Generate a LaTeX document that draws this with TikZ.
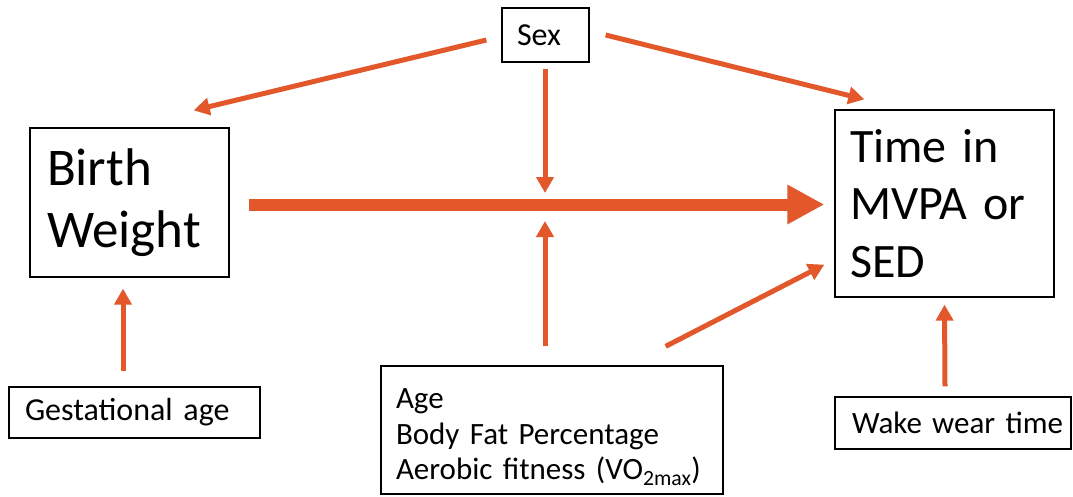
\documentclass[tikz,border=0pt]{standalone}
\usepackage{fontspec}
\setmainfont{Carlito}
\usetikzlibrary{arrows.meta}
\definecolor{arrorange}{HTML}{E2582A}
\begin{document}
\begin{tikzpicture}[x=1pt,y=-1pt,
        box/.style={draw,line width=1.3pt,inner sep=0pt,align=left},
        arr/.style={arrorange,line width=5pt,-{Triangle[length=16pt,width=17pt]}},
        bigarr/.style={arrorange,line width=12pt,-{Triangle[length=37pt,width=37pt]}}]
        \useasboundingbox (0,0) rectangle (1073,496);

        % boxes
        \node[box,minimum width=87pt,minimum height=54pt,text width=57pt,font=\fontsize{32}{38}\selectfont] (sex) at (545.5,35) {Sex};
        \node[box,minimum width=199pt,minimum height=149pt,text width=165pt,font=\fontsize{53}{62}\selectfont] (bw) at (129.5,202.5) {Birth\\Weight};
        \node[box,minimum width=219pt,minimum height=187pt,text width=189pt,font=\fontsize{48}{57.5}\selectfont] (time) at (944.5,203.5) {Time in\\MVPA or\\SED};
        \node[box,minimum width=251pt,minimum height=51pt,text width=219pt,font=\fontsize{32}{38}\selectfont] (ga) at (134.5,412.5) {Gestational age};
        \node[box,minimum width=342pt,minimum height=128pt,text width=312pt,text height=34pt,font=\fontsize{31}{35.5}\selectfont] (cov) at (552,430) {Age\\Body Fat Percentage\\Aerobic fitness (VO\textsubscript{2max})};
        \node[box,minimum width=236pt,minimum height=52pt,text width=202pt,font=\fontsize{31}{38}\selectfont] (wwt) at (953,423) {\mbox{Wake wear time}};

        \coordinate (mod) at (545,204.5);

        % arrows
        \draw[bigarr] ([xshift=19pt,yshift=-2pt]bw.east) -- ([xshift=-10pt,yshift=-1pt]time.west);
        \draw[arr] ([xshift=-15pt,yshift=-5pt]sex.west) -- ([xshift=-36pt,yshift=17pt]bw.north east);
        \draw[arr] ([xshift=16pt]sex.east) -- ([xshift=30pt,yshift=10pt]time.north west);
        \draw[arr] ([xshift=-0.5pt,yshift=-6pt]sex.south) -- ([yshift=11.5pt]mod);
        \draw[arr] ([xshift=-7pt,yshift=19pt]cov.north) -- ([yshift=-16.5pt]mod);
        \draw[arr] ([xshift=-58pt,yshift=19pt]cov.north east) -- ([xshift=-10pt,yshift=33pt]time.south west);
        \draw[arr] ([xshift=-11.5pt,yshift=15pt]ga.north) -- ([xshift=-6.5pt,yshift=-11pt]bw.south);
        \draw[arr] ([xshift=-8pt,yshift=10pt]wwt.north) -- ([yshift=-7pt]time.south);
\end{tikzpicture}
\end{document}
